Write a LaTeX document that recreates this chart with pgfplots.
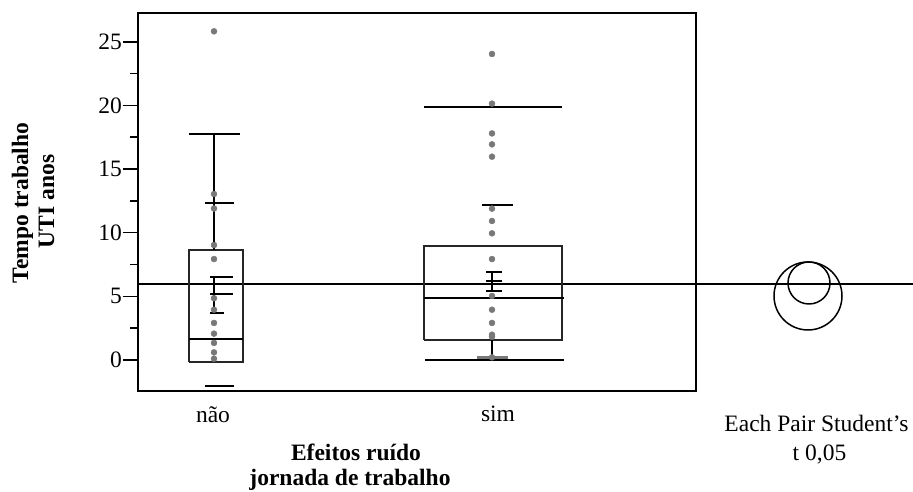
\documentclass[border=0pt]{standalone}
\usepackage{fontspec}
\setmainfont{Liberation Serif}
\usepackage{pgfplots}
\pgfplotsset{compat=1.18}
\definecolor{ptgray}{RGB}{120,120,120}
\newcommand\lab{\fontsize{23.5bp}{28bp}\selectfont}

\begin{document}
\begin{tikzpicture}
\useasboundingbox (0,0) rectangle (913bp,492bp);
\begin{axis}[
  at={(138bp,101bp)}, anchor=south west,
  x=1bp, y=12.73bp,
  xmin=138, xmax=696, ymin=-2.435, ymax=27.258,
  clip=false,
  axis line style={line width=2bp},
  xtick=\empty,
  ytick={0,5,...,25},
  minor ytick={2.5,7.5,...,22.5},
  ytick pos=left,
  tick align=outside,
  major tick length=15bp, minor tick length=8bp,
  tick style={black, line width=1.6bp},
  yticklabel style={font=\lab, inner sep=0pt, xshift=-1bp},
  /pgf/number format/assume math mode=true,
  seg/.style={black, line width=2bp, mark=none},
  box/.style={black!85, line width=1.6bp, mark=none},
]
% grand mean
\addplot[seg] coordinates {(138,5.97) (913,5.97)};

% --- nao ---
\addplot[box] coordinates {(189,-0.18) (243,-0.18) (243,8.64) (189,8.64) (189,-0.18)};
\addplot[seg] coordinates {(189,1.67) (243,1.67)};
\addplot[seg] coordinates {(214,8.64) (214,17.75)};
\addplot[seg] coordinates {(189,17.75) (240,17.75)};
\addplot[seg] coordinates {(205,12.36) (234,12.36)};
\addplot[seg] coordinates {(205,-2.02) (234,-2.02)};
\addplot[seg] coordinates {(214,3.69) (214,6.52)};
\addplot[seg] coordinates {(210,6.52) (233,6.52)};
\addplot[seg] coordinates {(210,5.21) (233,5.21)};
\addplot[seg] coordinates {(210,3.69) (224,3.69)};

% --- sim ---
\addplot[box] coordinates {(424,1.55) (562,1.55) (562,8.96) (424,8.96) (424,1.55)};
\addplot[seg] coordinates {(424,4.9) (564,4.9)};
\addplot[seg] coordinates {(424,19.9) (562,19.9)};
\addplot[seg] coordinates {(425,0) (564,0)};
\addplot[seg] coordinates {(482,12.2) (513,12.2)};
\addplot[seg] coordinates {(492,5.44) (492,6.94)};
\addplot[seg] coordinates {(486,6.94) (502,6.94)};
\addplot[seg] coordinates {(486,6.23) (502,6.23)};
\addplot[seg] coordinates {(486,5.44) (502,5.44)};
\addplot[seg] coordinates {(492,1.55) (492,0.21)};
\addplot[ptgray, line width=2.5bp, mark=none] coordinates {(477,0.21) (508,0.21)};

% observations
\addplot[only marks, mark=*, mark size=3bp, ptgray, mark options={draw=ptgray, fill=ptgray}] coordinates {
  (214,25.82) (214,13.04) (214,11.90) (214,9.03) (214,7.93) (214,4.85)
  (214,3.95) (214,2.91) (214,2.07) (214,1.34) (214,0.60) (214,0.10)
  (492,24.04) (492,20.14) (492,17.80) (492,16.94) (492,15.97) (492,11.89)
  (492,10.92) (492,9.95) (492,7.93) (492,5.03) (492,3.95) (492,2.91)
  (492,1.99) (492,1.83) (492,0.21)
};

% comparison circles
\addplot[only marks, mark=o, mark size=34bp, mark options={line width=1.5bp, black}] coordinates {(808,5.03)};
\addplot[only marks, mark=o, mark size=21bp, mark options={line width=1.5bp, black}] coordinates {(809,6.05)};
\end{axis}

\node[anchor=base, font=\lab] at (213bp,69bp) {não};
\node[anchor=base, font=\lab] at (498bp,70.3bp) {sim};
\node[anchor=base, font=\lab\bfseries] at (356bp,31.3bp) {Efeitos ruído};
\node[anchor=base, font=\lab\bfseries] at (350bp,7bp) {jornada de trabalho};
\node[anchor=base, font=\lab] at (816.5bp,60.3bp) {Each Pair Student’s};
\node[anchor=base, font=\lab] at (819.5bp,31.3bp) {t 0,05};
\node[anchor=base, rotate=90, font=\lab\bfseries] at (28bp,289bp) {Tempo trabalho};
\node[anchor=base, rotate=90, font=\lab\bfseries] at (54bp,290.5bp) {UTI anos};
\end{tikzpicture}
\end{document}
